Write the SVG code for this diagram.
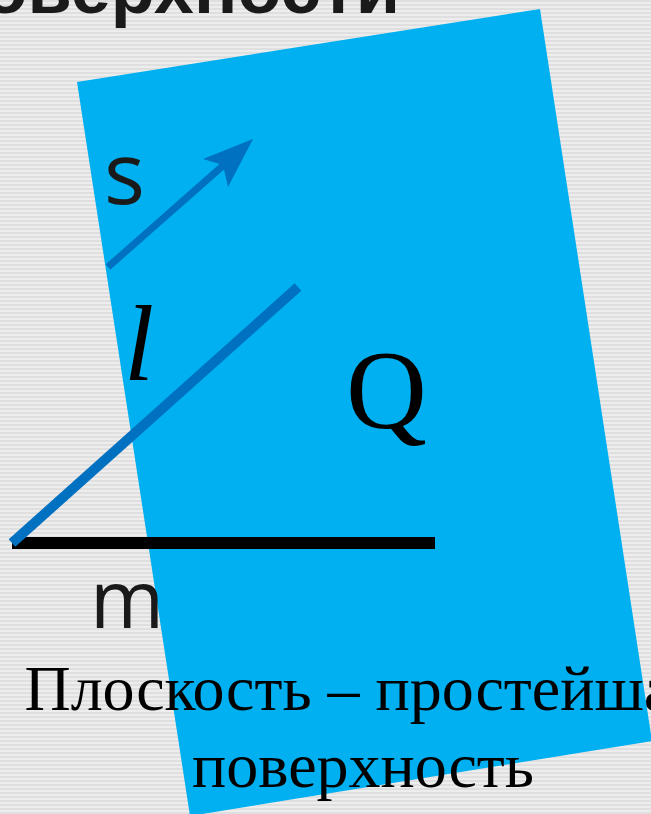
<svg xmlns="http://www.w3.org/2000/svg" width="651" height="814" viewBox="0 0 651 814">
<defs>
<pattern id="stripes" x="0" y="0" width="8" height="4" patternUnits="userSpaceOnUse">
<rect width="8" height="4" fill="#ededed"/>
<rect y="0" width="8" height="2" fill="#dfdfdf"/>
</pattern>
<style>
.sans{font-family:"Open Sans","Liberation Sans",sans-serif;fill:#1a1a1a}
.serif{font-family:"Liberation Serif","Times New Roman",serif;fill:#000}
</style>
</defs>
<rect width="651" height="814" fill="url(#stripes)"/>
<text x="400" y="13" font-size="72" font-weight="bold" text-anchor="end" fill="#1a1a1a" font-family="'Liberation Sans',Arial,sans-serif">поверхности</text>
<g id="plane-Q">
<polygon points="77,82 540,9 652,741 190,816" fill="#00B0F0"/>
</g>
<g id="connectors">
<line id="line-m" x1="12" y1="543" x2="435" y2="543" stroke="#000" stroke-width="12"/>
<line id="line-l" x1="12" y1="543" x2="298" y2="287" stroke="#0070C0" stroke-width="10"/>
<line id="vector-s" x1="108" y1="267" x2="226" y2="163" stroke="#0070C0" stroke-width="7"/>
<polygon points="253,139 228,187 223,165 203,159" fill="#0070C0"/>
</g>
<g id="labels">
<text class="sans" x="104" y="204" font-size="86">s</text>
<text class="serif" x="124" y="380" font-size="108" font-style="italic">l</text>
<text class="serif" x="346" y="428" font-size="112">Q</text>
<text class="sans" x="90" y="628" font-size="80">m</text>
</g>
<g id="caption">
<text class="serif" x="363" y="710" font-size="64" text-anchor="middle">Плоскость – простейшая</text>
<text class="serif" x="363" y="787" font-size="64" text-anchor="middle">поверхность</text>
</g>
</svg>
